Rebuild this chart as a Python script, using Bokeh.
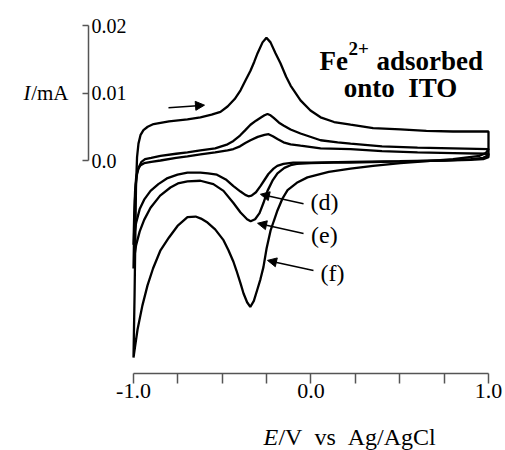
from bokeh.plotting import figure
from bokeh.models import FixedTicker, Range1d, Label, Arrow, NormalHead, LinearAxis
from bokeh.embed import file_html
from bokeh.resources import INLINE

FONT = "Liberation Serif"
BFONT = "Times New Roman"
NB = "\u00a0"

# ---- data (E in V vs Ag/AgCl, I in mA) ----
f_anodic_E = [-1.000, -0.994, -0.989, -0.986, -0.980, -0.972, -0.960, -0.944, -0.920, -0.887,
              -0.800, -0.696, -0.623, -0.560, -0.510, -0.470, -0.430, -0.397, -0.370, -0.341,
              -0.320, -0.301, -0.273, -0.251, -0.228, -0.200, -0.172, -0.140, -0.115, -0.059,
              -0.003, 0.054, 0.130, 0.223, 0.350, 0.504, 0.650, 0.800, 1.000]
f_anodic_I = [-0.0292, -0.0200, -0.0100, -0.0040, 0.0005, 0.0025, 0.0038, 0.0045, 0.0050, 0.0054,
              0.0058, 0.0061, 0.0064, 0.0068, 0.0072, 0.0080, 0.0091, 0.0104, 0.0118, 0.0133,
              0.0146, 0.0159, 0.0175, 0.0182, 0.0175, 0.0159, 0.0144, 0.0124, 0.0111, 0.0089,
              0.0074, 0.0064, 0.0057, 0.0053, 0.0048, 0.0046, 0.0044, 0.0043, 0.0043]
f_cathodic_E = [1.000, 0.985, 0.950, 0.800, 0.600, 0.504, 0.350, 0.223, 0.100, -0.020,
                -0.080, -0.132, -0.160, -0.189, -0.210, -0.228, -0.250, -0.268, -0.285, -0.301,
                -0.322, -0.342, -0.360, -0.380, -0.397, -0.420, -0.437, -0.465, -0.493, -0.540,
                -0.583, -0.620, -0.650, -0.696, -0.752, -0.800, -0.848, -0.890, -0.921, -0.950,
                -0.977, -0.992, -1.000]
f_cathodic_I = [0.0017, 0.0011, 0.0007, 0.0002, -0.0002, -0.0004, -0.0008, -0.0012, -0.0017, -0.0025,
                -0.0033, -0.0044, -0.0056, -0.0074, -0.0090, -0.0104, -0.0130, -0.0158, -0.0176, -0.0190,
                -0.0208, -0.0217, -0.0210, -0.0197, -0.0182, -0.0163, -0.0150, -0.0133, -0.0118, -0.0102,
                -0.0092, -0.0086, -0.0083, -0.0084, -0.0097, -0.0114, -0.0133, -0.0160, -0.0185, -0.0215,
                -0.0250, -0.0277, -0.0292]

e_anodic_E = [-1.000, -0.996, -0.992, -0.987, -0.980, -0.970, -0.955, -0.935, -0.900, -0.848,
              -0.760, -0.696, -0.623, -0.540, -0.470, -0.437, -0.400, -0.370, -0.341, -0.310,
              -0.280, -0.262, -0.245, -0.228, -0.210, -0.180, -0.155, -0.115, -0.059, 0.054,
              0.150, 0.223, 0.400, 0.600, 0.800, 1.000]
e_anodic_I = [-0.0160, -0.0100, -0.0060, -0.0035, -0.0020, -0.0010, -0.0002, 0.0002, 0.0004, 0.0007,
              0.0010, 0.0012, 0.0015, 0.0018, 0.0024, 0.0029, 0.0037, 0.0045, 0.0053, 0.0059,
              0.0064, 0.0067, 0.0069, 0.0067, 0.0063, 0.0056, 0.0052, 0.0046, 0.0040, 0.0030,
              0.0027, 0.0025, 0.0021, 0.0019, 0.0018, 0.0017]
e_cathodic_E = [1.000, 0.970, 0.900, 0.750, 0.600, 0.400, 0.223, 0.127, 0.000, -0.080,
                -0.115, -0.150, -0.189, -0.215, -0.245, -0.268, -0.290, -0.315, -0.340, -0.360,
                -0.397, -0.437, -0.493, -0.550, -0.623, -0.696, -0.750, -0.792, -0.850, -0.904,
                -0.940, -0.965, -0.985, -0.995, -1.000]
e_cathodic_I = [0.0008, 0.0004, 0.0002, 0.0000, -0.0001, -0.0002, -0.0003, -0.0003, -0.0004, -0.0005,
                -0.0007, -0.0011, -0.0019, -0.0029, -0.0045, -0.0063, -0.0078, -0.0087, -0.0090, -0.0087,
                -0.0077, -0.0063, -0.0045, -0.0035, -0.0030, -0.0031, -0.0034, -0.0040, -0.0052, -0.0070,
                -0.0088, -0.0105, -0.0125, -0.0142, -0.0160]

d_anodic_E = [-1.000, -0.996, -0.991, -0.985, -0.975, -0.960, -0.940, -0.900, -0.848, -0.760,
              -0.696, -0.623, -0.540, -0.470, -0.437, -0.400, -0.370, -0.341, -0.300, -0.262,
              -0.239, -0.215, -0.189, -0.155, -0.115, -0.059, 0.054, 0.223, 0.400, 0.600,
              0.800, 1.000]
d_anodic_I = [-0.0125, -0.0080, -0.0045, -0.0025, -0.0013, -0.0007, -0.0004, -0.0002, 0.0000, 0.0004,
              0.0006, 0.0009, 0.0012, 0.0015, 0.0017, 0.0021, 0.0026, 0.0030, 0.0035, 0.0038,
              0.0039, 0.0036, 0.0032, 0.0027, 0.0024, 0.0022, 0.0018, 0.0017, 0.0014, 0.0012,
              0.0011, 0.0010]
d_cathodic_E = [1.000, 0.970, 0.900, 0.750, 0.500, 0.223, 0.000, -0.100, -0.155, -0.190,
                -0.211, -0.240, -0.265, -0.285, -0.310, -0.335, -0.352, -0.370, -0.397, -0.437,
                -0.480, -0.530, -0.580, -0.623, -0.696, -0.752, -0.808, -0.860, -0.904, -0.940,
                -0.965, -0.985, -0.995, -1.000]
d_cathodic_I = [0.0005, 0.0002, 0.0001, 0.0000, -0.0001, -0.0002, -0.0003, -0.0003, -0.0005, -0.0008,
                -0.0012, -0.0020, -0.0030, -0.0038, -0.0047, -0.0052, -0.0053, -0.0051, -0.0046, -0.0038,
                -0.0028, -0.0021, -0.0019, -0.0018, -0.0018, -0.0021, -0.0026, -0.0035, -0.0045, -0.0058,
                -0.0072, -0.0092, -0.0110, -0.0125]

x_major_ticks = [-1.0, 0.0, 1.0]
x_tick_labels = ["-1.0", "0.0", "1.0"]
x_minor_ticks = [-0.75, -0.5, -0.25, 0.25, 0.5, 0.75]
y_ticks = [0.0, 0.01, 0.02]
y_tick_labels = ["0.0", "0.01", "0.02"]

# ---- figure: frame spans the whole canvas, axes are drawn at fixed locations ----
p = figure(width=505, height=450, output_backend="svg", toolbar_location=None,
           x_range=Range1d(-1.7493, 1.0958), y_range=Range1d(-0.042963, 0.023704),
           x_axis_location=None, y_axis_location=None,
           min_border_left=0, min_border_right=0, min_border_top=0, min_border_bottom=0)
p.outline_line_color = None
p.grid.visible = False

AX = "#555555"
xa = LinearAxis(fixed_location=-0.031556, bounds=(-1.0, 1.0),
                ticker=FixedTicker(ticks=x_major_ticks, minor_ticks=x_minor_ticks),
                major_label_overrides={t: s for t, s in zip(x_major_ticks, x_tick_labels)})
xa.axis_line_color = AX
xa.axis_line_width = 1.5
xa.major_tick_line_color = AX
xa.minor_tick_line_color = AX
xa.major_tick_line_width = 1.5
xa.minor_tick_line_width = 1.5
xa.major_tick_in = 0
xa.major_tick_out = 10
xa.minor_tick_in = 0
xa.minor_tick_out = 10
xa.major_label_text_font = FONT
xa.major_label_text_font_size = "22px"
xa.major_label_text_color = "black"
xa.major_label_standoff = 0
p.add_layout(xa, "below")

ya = LinearAxis(fixed_location=-1.2535, bounds=(0.0, 0.02),
                ticker=FixedTicker(ticks=y_ticks, minor_ticks=[]),
                major_label_overrides={t: s for t, s in zip(y_ticks, y_tick_labels)})
ya.axis_line_color = AX
ya.axis_line_width = 1.5
ya.major_tick_line_color = AX
ya.major_tick_line_width = 1.5
ya.major_tick_in = 6
ya.major_tick_out = 0
ya.minor_tick_line_color = None
ya.major_label_text_font = FONT
ya.major_label_text_font_size = "20px"
ya.major_label_text_color = "black"
ya.major_label_standoff = 3
p.add_layout(ya, "right")

for E, I in [(f_anodic_E + f_cathodic_E, f_anodic_I + f_cathodic_I),
             (e_anodic_E + e_cathodic_E, e_anodic_I + e_cathodic_I),
             (d_anodic_E + d_cathodic_E, d_anodic_I + d_cathodic_I)]:
    p.line(E, I, line_color="black", line_width=2.3)

def arrow(x0, y0, x1, y1):
    p.add_layout(Arrow(end=NormalHead(size=9, line_color="black", fill_color="black", line_width=1),
                       x_start=x0, y_start=y0, x_end=x1, y_end=y1,
                       line_color="black", line_width=1.5))

arrow(-0.803, 0.0078, -0.600, 0.0082)
arrow(-0.042, -0.0064, -0.285, -0.0050)
arrow(-0.042, -0.0108, -0.301, -0.0093)
arrow(0.014, -0.0163, -0.245, -0.0148)

def lab(x, y, text, size="22px", style="normal", align="left", baseline="middle",
        xo=0, yo=0, font=FONT):
    p.add_layout(Label(x=x, y=y, text=text, text_font=font, text_font_size=size,
                       text_font_style=style, text_align=align, text_baseline=baseline,
                       x_offset=xo, y_offset=yo, text_color="black"))

lab(-0.003, -0.0062, "(d)", size="24px")
lab(0.000, -0.0111, "(e)", size="24px")
lab(0.054, -0.0167, "(f)", size="24px")

# annotation (bold serif)
lab(0.048, 0.0148, "Fe", size="27px", style="bold", baseline="alphabetic", font=BFONT)
lab(0.048, 0.0148, "2+", size="19px", style="bold", baseline="alphabetic", xo=29, yo=12, font=BFONT)
lab(0.048, 0.0148, "adsorbed", size="27px", style="bold", baseline="alphabetic", xo=57, font=BFONT)
lab(0.504, 0.0107, "onto" + NB + NB + "ITO", size="27px", style="bold", align="center",
    baseline="alphabetic", font=BFONT)

# y-axis title
lab(-1.366, 0.0100, "/mA", size="21px", align="right")
lab(-1.366, 0.0100, "I", size="21px", style="italic", align="right", xo=-38)

# x-axis title
lab(-0.268, -0.0409, "E", size="24px", style="italic")
lab(-0.268, -0.0409, "/V" + NB + NB + "vs" + NB + NB + "Ag/AgCl", size="24px", xo=15)

open("out.html", "w").write(file_html(p, INLINE))
